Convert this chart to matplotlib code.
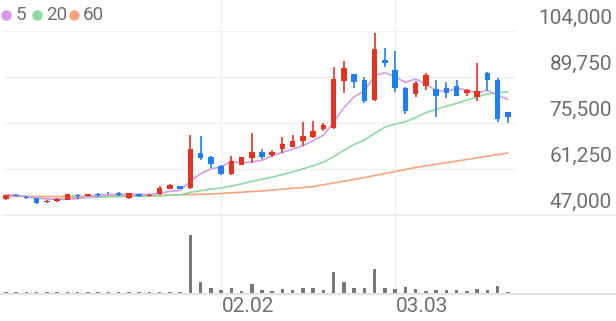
import numpy as np
import pandas as pd
import matplotlib
matplotlib.use('Agg')
import matplotlib.pyplot as plt
from matplotlib.lines import Line2D
from matplotlib import transforms

# daily candles (price in KRW)
opens = [51900, 53300, 52600, 52300, 50900, 51400, 51600, 53300, 53000, 53600,
         53900, 53800, 52200, 53500, 52900, 53400, 55100, 56000, 55300, 66100,
         65100, 62300, 59600, 62500, 64600, 66400, 65600, 67400, 68200, 69900,
         71300, 73600, 73900, 88500, 90600, 88800, 82600, 95000, 91900, 86400,
         84500, 87000, 85900, 86200, 87100, 84700, 83500, 91100, 88800, 78800]
closes = [53200, 52900, 52200, 50600, 51300, 51900, 53400, 53000, 53400, 53200,
          53700, 53300, 53700, 53000, 53300, 55300, 56400, 55000, 67400, 64800,
          62700, 59600, 63800, 64900, 66400, 65100, 66600, 69000, 70000, 71600,
          73100, 74900, 89100, 92600, 88300, 82400, 98300, 94000, 86200, 79300,
          88000, 90400, 83900, 84700, 83900, 85700, 85400, 88800, 76700, 77400]
highs = [53300, 53500, 52800, 52400, 51600, 52300, 53500, 53500, 53600, 53700,
         54000, 54100, 53800, 53600, 53400, 56100, 56500, 56100, 71800, 71500,
         65200, 62400, 65400, 65000, 72300, 67400, 67100, 71300, 71800, 75900,
         76100, 75600, 92900, 94800, 90800, 89700, 103500, 98600, 97900, 86600,
         88500, 91100, 88800, 88300, 88800, 86000, 94200, 91200, 89500, 78900]
lows = [51800, 52800, 52100, 50500, 50600, 51100, 51500, 52000, 52900, 52500,
        53600, 52800, 52100, 52500, 52800, 53300, 55000, 54900, 55200, 63900,
        61500, 59500, 59500, 62400, 63200, 64300, 65100, 66300, 68000, 68500,
        70900, 73000, 73700, 84900, 86400, 81800, 82400, 92900, 85200, 78300,
        83600, 85700, 77500, 83200, 83800, 83900, 82400, 85500, 75900, 75400]
# volume, thousand shares (relative)
volumes = [8, 8, 8, 10, 8, 8, 8, 8, 8, 8,
           8, 10, 10, 10, 10, 12, 12, 10, 580, 113,
           47, 33, 47, 17, 93, 30, 20, 40, 27, 53,
           50, 27, 207, 110, 50, 50, 240, 53, 43, 63,
           37, 23, 27, 27, 30, 17, 40, 30, 73, 13]
# 60-day average (needs history before the first candle)
ma60_idx = [0, 5, 10, 15, 20, 25, 30, 35, 40, 45, 49]
ma60_val = [52750, 52750, 52900, 53050, 53500, 54450, 55800, 58600, 61700, 64200, 66200]

date_labels = ['02.02', '03.03']
date_idx = [21, 38]
yticks = [47000, 61250, 75500, 89750, 104000]

RED = '#e8311e'
BLUE = '#1f7ff0'
C5, C20, C60 = '#d59ae9', '#8fd9a2', '#f7a47c'
TXT = '#6e6e6e'
GRID = '#f0f0f0'

plt.rcParams['font.family'] = ['Roboto', 'DejaVu Sans']

W, H = 616, 321
fig = plt.figure(figsize=(W / 100, H / 100), dpi=100)


def fy(py):
    return 1 - py / H


step = 10.24
def xd(px):
    return (px - 6) / step


ax = fig.add_axes([0, fy(215), 1, (215 - 31) / H])
vax = fig.add_axes([0, fy(293), 1, (293 - 228) / H])
for a in (ax, vax):
    a.set_xlim(xd(0), xd(W))
    a.axis('off')
ax.set_ylim(47000, 104000)
vax.set_ylim(0, 580 * 65 / 57.7)

# grid
ax.hlines(yticks[1:], xd(3), xd(515), color=GRID, lw=1, zorder=0)
ax.hlines(yticks[0], xd(3), xd(W), color='#ececec', lw=1.2, zorder=0, clip_on=False)
bt = transforms.blended_transform_factory(ax.transData, fig.transFigure)
for i in date_idx:
    fig.add_artist(Line2D([i, i], [fy(293), 1], transform=bt, color=GRID, lw=1, zorder=0))
fig.add_artist(Line2D([0, 1], [fy(293.5), fy(293.5)], transform=fig.transFigure,
                      color='#e2e2e2', lw=1.5))

# moving averages
cs = pd.Series(closes)
x = np.arange(len(closes))
ma5 = cs.rolling(5, min_periods=1).mean()
ma20 = cs.rolling(20, min_periods=1).mean()
ax.plot(ma60_idx, ma60_val, color=C60, lw=1.2, zorder=1)
ax.plot(x, ma20, color=C20, lw=1.2, zorder=1)
ax.plot(x, ma5, color=C5, lw=1.2, zorder=1)

# candles
for i in range(len(closes)):
    o, c, h, l = opens[i], closes[i], highs[i], lows[i]
    col = RED if c >= o else BLUE
    ax.vlines(i, l, h, color=col, lw=1.2, zorder=2)
    ax.bar(i, abs(c - o), bottom=min(o, c), width=0.54, color=col, zorder=3)

# volume
vax.bar(x, volumes, width=0.34, color='#787878', clip_on=False)

# y labels
off = transforms.offset_copy(ax.transData, fig=fig, x=0, y=13, units='dots')
for t in yticks:
    ax.text(xd(612), t, f'{t:,}', transform=off, ha='right', va='center',
            fontsize=15, color=TXT)

# date labels, starting at their grid line
dt = transforms.offset_copy(bt, fig=fig, x=1, y=0, units='dots')
for i, lab in zip(date_idx, date_labels):
    fig.text(i, fy(307), lab, transform=dt, ha='left', va='center',
             fontsize=15, color=TXT)

# legend
items = [(6, 16, '5', C5), (37, 46, '20', C20), (74, 83, '60', C60)]
for dx, tx, lab, col in items:
    fig.add_artist(Line2D([dx / W], [fy(15)], transform=fig.transFigure, marker='o',
                          markersize=6.5, color=col, linestyle='none'))
    fig.text(tx / W, fy(15), lab, ha='left', va='center', fontsize=13.5, color=TXT)

fig.savefig('out.png', dpi=100)
